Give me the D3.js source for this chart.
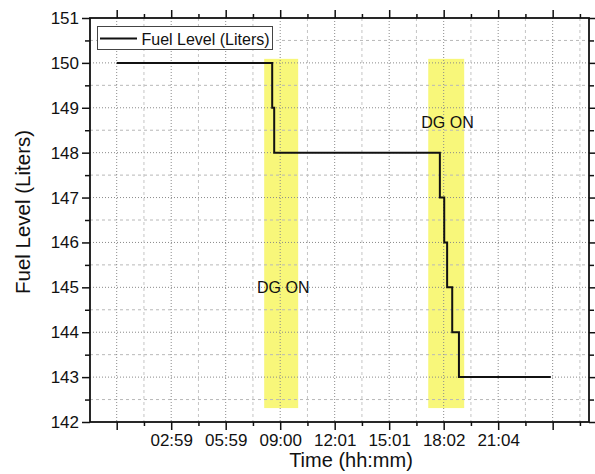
<!DOCTYPE html>
<html>
<head>
<meta charset="utf-8">
<script src="https://cdn.jsdelivr.net/npm/d3@7"></script>
<style>
  html, body { margin: 0; padding: 0; background: #fff; }
  svg { display: block; font-family: "Liberation Sans", Arial, sans-serif; }
</style>
</head>
<body>
<svg id="chart" width="595" height="474"></svg>
<script>
// ---- data (x in hours) ----
const timeHours = [0, 8.56, 8.67, 17.79, 18.03, 18.19, 18.47, 18.84, 23.9];
const fuelLiters = [150, 149, 148, 147, 146, 145, 144, 143, 143];
const xTickValues = [0, 3, 6, 9, 12, 15, 18, 21, 24];
const xTickLabels = ["", "02:59", "05:59", "09:00", "12:01", "15:01", "18:02", "21:04", ""];
const xMinorTicks = [1.5, 4.5, 7.5, 10.5, 13.5, 16.5, 19.5, 22.5, 25.5];
const yTickValues = [142, 143, 144, 145, 146, 147, 148, 149, 150, 151];
const yMinorTicks = [142.5, 143.5, 144.5, 145.5, 146.5, 147.5, 148.5, 149.5, 150.5];
const dgBandStart = [8.12, 17.15];
const dgBandEnd = [9.99, 19.13];
const dgBandLow = 142.31, dgBandHigh = 150.09;
const dgLabelX = [9.17, 18.21];
const dgLabelY = [144.87, 148.54];
const dgLabelText = ["DG ON", "DG ON"];
const seriesName = "Fuel Level (Liters)";
const xTitle = "Time (hh:mm)";
const yTitle = "Fuel Level (Liters)";

// ---- layout ----
const L = 90, R = 589, T = 18, B = 422;
const svg = d3.select("#chart");
const x = d3.scaleLinear().domain([-1.47, 26.0]).range([L, R]);
const y = d3.scaleLinear().domain([142, 151]).range([B, T]);

// ---- DG bands ----
svg.append("g").selectAll("rect").data(dgBandStart).join("rect")
  .attr("x", (d, i) => x(d))
  .attr("width", (d, i) => x(dgBandEnd[i]) - x(d))
  .attr("y", y(dgBandHigh))
  .attr("height", y(dgBandLow) - y(dgBandHigh))
  .attr("fill", "#f8f77a");

// ---- grid ----
const grid = svg.append("g");
grid.selectAll(".hminor").data(yMinorTicks).join("line")
  .attr("x1", L).attr("x2", R).attr("y1", d => y(d)).attr("y2", d => y(d))
  .attr("stroke", "#b8b8b8").attr("stroke-width", 1).attr("stroke-dasharray", "3,3");
grid.selectAll(".hmajor").data(yTickValues.filter(v => v > 142 && v < 151)).join("line")
  .attr("x1", L).attr("x2", R).attr("y1", d => y(d)).attr("y2", d => y(d))
  .attr("stroke", "#8a8a8a").attr("stroke-width", 1).attr("stroke-dasharray", "1,2");
grid.selectAll(".vminor").data(xMinorTicks.filter(v => x(v) < R - 2)).join("line")
  .attr("y1", T).attr("y2", B).attr("x1", d => x(d)).attr("x2", d => x(d))
  .attr("stroke", "#c4c4c4").attr("stroke-width", 1).attr("stroke-dasharray", "3,3");
grid.selectAll(".vmajor").data(xTickValues).join("line")
  .attr("y1", T).attr("y2", B).attr("x1", d => x(d)).attr("x2", d => x(d))
  .attr("stroke", "#8a8a8a").attr("stroke-width", 1).attr("stroke-dasharray", "1,2");

// ---- data line ----
const pts = timeHours.map((t, i) => [t, fuelLiters[i]]);
svg.append("path").datum(pts)
  .attr("fill", "none").attr("stroke", "#111").attr("stroke-width", 2)
  .attr("d", d3.line().x(d => x(d[0])).y(d => y(d[1])).curve(d3.curveStepAfter));

// ---- DG labels ----
svg.append("g").selectAll("text").data(dgLabelText).join("text")
  .attr("x", (d, i) => x(dgLabelX[i]))
  .attr("y", (d, i) => y(dgLabelY[i]))
  .attr("text-anchor", "middle").attr("font-size", 16).attr("fill", "#111")
  .text(d => d);

// ---- axes ----
function styleAxis(g) {
  g.select(".domain").remove();
  g.selectAll(".tick line").attr("stroke", "#111").attr("stroke-width", 1.5);
  g.selectAll(".tick text").attr("fill", "#111").attr("font-size", 17)
    .attr("font-family", "'Liberation Sans', Arial, sans-serif");
}
// bottom
const gB = svg.append("g").attr("transform", `translate(0,${B})`)
  .call(d3.axisBottom(x).tickValues(xTickValues).tickSize(8).tickPadding(4)
    .tickFormat((d, i) => xTickLabels[i]));
styleAxis(gB);
svg.append("g").attr("transform", `translate(0,${B})`)
  .call(d3.axisBottom(x).tickValues(xMinorTicks).tickSize(4).tickFormat(""))
  .call(styleAxis);
// top
svg.append("g").attr("transform", `translate(0,${T})`)
  .call(d3.axisTop(x).tickValues(xTickValues).tickSize(8).tickFormat(""))
  .call(styleAxis);
svg.append("g").attr("transform", `translate(0,${T})`)
  .call(d3.axisTop(x).tickValues(xMinorTicks).tickSize(4).tickFormat(""))
  .call(styleAxis);
// left
const gL = svg.append("g").attr("transform", `translate(${L},0)`)
  .call(d3.axisLeft(y).tickValues(yTickValues).tickSize(8).tickPadding(3)
    .tickFormat(d3.format("d")));
styleAxis(gL);
svg.append("g").attr("transform", `translate(${L},0)`)
  .call(d3.axisLeft(y).tickValues(yMinorTicks).tickSize(5).tickFormat(""))
  .call(styleAxis);
// right
svg.append("g").attr("transform", `translate(${R},0)`)
  .call(d3.axisRight(y).tickValues(yTickValues).tickSize(8).tickFormat(""))
  .call(styleAxis);
svg.append("g").attr("transform", `translate(${R},0)`)
  .call(d3.axisRight(y).tickValues(yMinorTicks).tickSize(5).tickFormat(""))
  .call(styleAxis);
// frame
svg.append("rect").attr("x", L).attr("y", T).attr("width", R - L).attr("height", B - T)
  .attr("fill", "none").attr("stroke", "#111").attr("stroke-width", 1.8);

// ---- titles ----
svg.append("text").attr("x", 351).attr("y", 467).attr("text-anchor", "middle")
  .attr("font-size", 20).attr("fill", "#111").text(xTitle);
svg.append("text").attr("transform", `translate(30,212) rotate(-90)`)
  .attr("text-anchor", "middle").attr("font-size", 20.5).attr("fill", "#111").text(yTitle);

// ---- legend ----
const lg = svg.append("g");
lg.append("rect").attr("x", 97.5).attr("y", 26.5).attr("width", 175).attr("height", 23)
  .attr("fill", "#fff").attr("stroke", "#444").attr("stroke-width", 1);
lg.append("line").attr("x1", 100).attr("x2", 137).attr("y1", 38.5).attr("y2", 38.5)
  .attr("stroke", "#111").attr("stroke-width", 2);
lg.append("text").attr("x", 141.5).attr("y", 44.5).attr("font-size", 16).attr("fill", "#111")
  .text(seriesName);
</script>
</body>
</html>
